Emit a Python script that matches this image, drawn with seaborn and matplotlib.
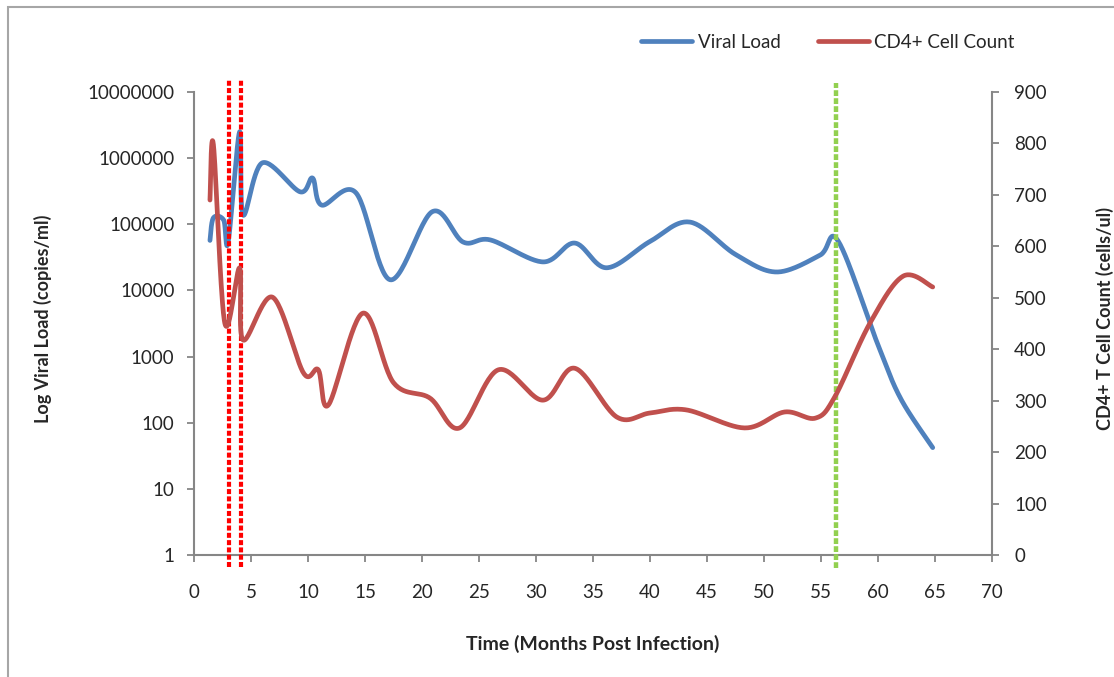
import numpy as np
import pandas as pd
import matplotlib
matplotlib.use("Agg")
import matplotlib.pyplot as plt
from matplotlib.patches import Rectangle
from matplotlib.ticker import FixedLocator, FixedFormatter, NullLocator
import seaborn as sns

# Viral load (copies/ml) by months post infection
vl_months = [1.4, 1.7, 2.6, 3.0, 4.0, 4.3, 6.0, 9.3, 10.4, 11.2, 14.2, 17.2, 20.9,
             23.6, 26.0, 30.6, 33.4, 36.2, 40.0, 43.5, 47.5, 51.1, 54.9, 56.5,
             60.0, 62.0, 64.8]
vl_copies = [57000, 125000, 116000, 54000, 2500000, 138000, 850000, 310000, 500000,
             195000, 300000, 14500, 155000, 54000, 58000, 27000, 52000, 22000,
             55000, 108000, 35000, 19000, 34000, 56000, 1500, 230, 42]

# CD4+ T cell count (cells/ul) by months post infection
cd4_months = [1.4, 1.7, 2.7, 4.0, 4.3, 6.9, 9.6, 10.9, 11.8, 14.8, 17.5, 20.7, 23.3,
              26.7, 30.6, 33.4, 37.1, 40.0, 43.2, 48.3, 51.8, 54.5, 56.2, 59.3,
              62.2, 64.8]
cd4_cells = [690, 798, 451, 558, 418, 501, 354, 360, 292, 470, 335, 305, 247,
             360, 301, 363, 268, 276, 282, 247, 278, 266, 307, 451, 542, 521]

# Event markers (months post infection)
red_events = [3.07, 4.12]
green_events = [56.3]

x_ticks = list(range(0, 75, 5))
vl_ticks = [1, 10, 100, 1000, 10000, 100000, 1000000, 10000000]
vl_tick_labels = ["1", "10", "100", "1000", "10000", "100000", "1000000", "10000000"]
cd4_ticks = list(range(0, 1000, 100))

BLUE = "#4F81BD"
RED = "#C0504D"
AXIS_GREY = "#868686"
TEXT = "#262626"


def smooth(x, y, n=30):
    """Bezier smoothing with control points at 1/6 of neighbour differences."""
    x = np.asarray(x, float)
    y = np.asarray(y, float)
    px = np.concatenate([[x[0]], x, [x[-1]]])
    py = np.concatenate([[y[0]], y, [y[-1]]])
    t = np.linspace(0, 1, n)[:, None]
    xs, ys = [], []
    for i in range(len(x) - 1):
        p0 = np.array([px[i + 1], py[i + 1]])
        p3 = np.array([px[i + 2], py[i + 2]])
        c1 = p0 + (p3 - np.array([px[i], py[i]])) / 6.0
        c2 = p3 - (np.array([px[i + 3], py[i + 3]]) - p0) / 6.0
        b = ((1 - t) ** 3) * p0 + 3 * ((1 - t) ** 2) * t * c1 + 3 * (1 - t) * t ** 2 * c2 + t ** 3 * p3
        xs.append(b[:, 0])
        ys.append(b[:, 1])
    return np.concatenate(xs), np.concatenate(ys)


sns.set_theme(style="white")
plt.rcParams["font.family"] = ["Lato", "DejaVu Sans"]

fig = plt.figure(figsize=(11.14, 6.77), dpi=100)
ax = fig.add_axes([194 / 1114, 1 - 555 / 677, 798 / 1114, 463 / 677])
ax2 = ax.twinx()

# Viral load curve, smoothed on the log scale
sx, sy = smooth(vl_months, np.log10(vl_copies))
vl_df = pd.DataFrame({"month": sx, "copies": 10 ** sy})
sns.lineplot(data=vl_df, x="month", y="copies", ax=ax, color=BLUE, linewidth=3.4,
             sort=False, estimator=None, label="Viral Load", legend=False)

# CD4 curve on the secondary axis
cx, cy = smooth(cd4_months, cd4_cells)
cd4_df = pd.DataFrame({"month": cx, "cells": cy})
sns.lineplot(data=cd4_df, x="month", y="cells", ax=ax2, color=RED, linewidth=3.4,
             sort=False, estimator=None, label="CD4+ Cell Count", legend=False)

ax.set_yscale("log")
ax.set_xlim(0, 70)
ax.set_ylim(1, 10000000)
ax2.set_ylim(0, 900)

# Event lines extend a little past the plot area
for m in red_events:
    ax.axvline(m, ymin=-0.026, ymax=1.026, color="#FF0000", linewidth=3.0,
               linestyle=(0, (1.2, 0.55)), clip_on=False, zorder=5,
               dash_capstyle="butt")
for m in green_events:
    ax.axvline(m, ymin=-0.028, ymax=1.02, color="#92D050", linewidth=3.2,
               linestyle=(0, (1.3, 0.5)), clip_on=False, zorder=5,
               dash_capstyle="butt")

ax.xaxis.set_major_locator(FixedLocator(x_ticks))
ax.yaxis.set_major_locator(FixedLocator(vl_ticks))
ax.yaxis.set_major_formatter(FixedFormatter(vl_tick_labels))
ax.yaxis.set_minor_locator(NullLocator())
ax2.yaxis.set_major_locator(FixedLocator(cd4_ticks))

for a in (ax, ax2):
    for s in a.spines.values():
        s.set_visible(False)
    a.grid(False)
ax.spines["left"].set_visible(True)
ax.spines["bottom"].set_visible(True)
ax2.spines["right"].set_visible(True)
for s in (ax.spines["left"], ax.spines["bottom"], ax2.spines["right"]):
    s.set_color(AXIS_GREY)
    s.set_linewidth(1.5)

ax.tick_params(axis="x", direction="out", length=5, width=1.3, color=AXIS_GREY,
               labelsize=13.5, labelcolor=TEXT, pad=16, bottom=True)
ax.tick_params(axis="y", direction="out", length=5, width=1.3, color=AXIS_GREY,
               labelsize=13.5, labelcolor=TEXT, pad=9, left=True)
ax2.tick_params(axis="y", direction="out", length=5, width=1.3, color=AXIS_GREY,
                labelsize=13.5, labelcolor=TEXT, pad=11, right=True)

ax.set_xlabel("Time (Months Post Infection)", fontsize=14, fontweight="bold", color=TEXT)
ax.set_ylabel("Log Viral Load (copies/ml)", fontsize=13, fontweight="bold", color=TEXT)
ax2.set_ylabel("CD4+ T Cell Count (cells/ul)", fontsize=13, fontweight="bold", color=TEXT)
ax.xaxis.set_label_coords(0.5, -0.173)
ax.yaxis.set_label_coords(-0.178, 0.51)
ax2.yaxis.set_label_coords(1.130, 0.51)

handles = ax.get_lines()[:1] + ax2.get_lines()[:1]
fig.legend(handles, ["Viral Load", "CD4+ Cell Count"], ncol=2, frameon=False,
           loc="center", bbox_to_anchor=(828 / 1114, 1 - 42 / 677), fontsize=13.5,
           handlelength=2.7, handletextpad=0.3, columnspacing=2.0, labelcolor=TEXT)

# Chart area border
fig.patches.append(Rectangle((8 / 1114, -0.05), 1.2, 1 - 7 / 677 + 0.05,
                             transform=fig.transFigure, fill=False,
                             edgecolor="#A6A6A6", linewidth=1.5))

fig.savefig("out.png", dpi=100, facecolor="white")
